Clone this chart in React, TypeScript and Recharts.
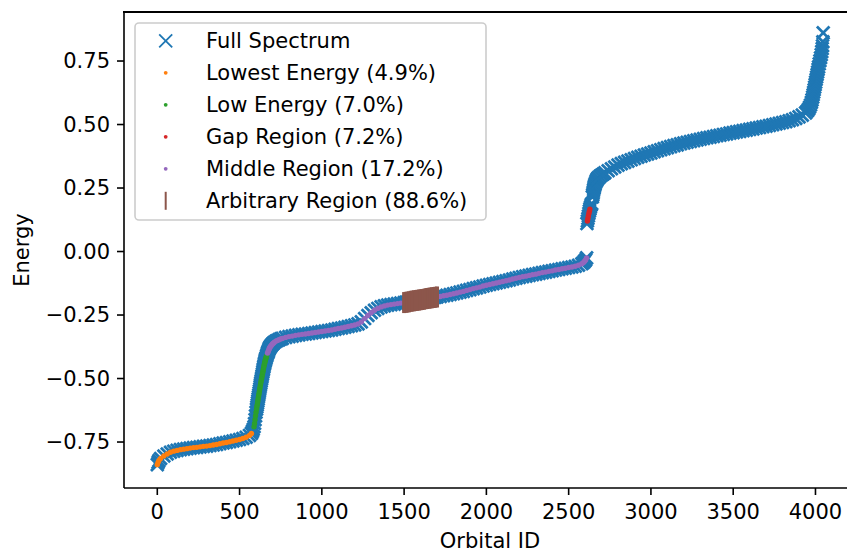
import React from 'react';
import { ScatterChart, Scatter, XAxis, YAxis, Legend, Label } from 'recharts';

// ---- data: [orbital ID, energy] ----
const fullSpectrum: [number, number][] = [
  [0, -0.839], [5, -0.830], [10, -0.823], [20, -0.815], [40, -0.805], [60, -0.797], [80, -0.790], [100, -0.786],
  [120, -0.783], [140, -0.780], [160, -0.778], [180, -0.776], [200, -0.774], [220, -0.772], [240, -0.771], [260, -0.769],
  [280, -0.767], [300, -0.766], [320, -0.764], [340, -0.762], [360, -0.760], [380, -0.757], [400, -0.754], [420, -0.752],
  [440, -0.749], [460, -0.746], [480, -0.743], [500, -0.740], [520, -0.736], [540, -0.731], [560, -0.724], [572, -0.716],
  [578, -0.708], [583, -0.700], [588, -0.690], [591, -0.677], [594, -0.662], [597, -0.647], [600, -0.633], [603, -0.621],
  [605, -0.612], [607, -0.604], [609, -0.596], [611, -0.588], [613, -0.580], [615, -0.572], [617, -0.564], [619, -0.556],
  [621, -0.548], [623, -0.540], [625, -0.532], [627, -0.524], [629, -0.517], [631, -0.510], [633, -0.503], [635, -0.496],
  [637, -0.489], [639, -0.482], [641, -0.475], [643, -0.468], [645, -0.462], [647, -0.455], [649, -0.449], [651, -0.443],
  [653, -0.438], [655, -0.432], [657, -0.427], [659, -0.422], [661, -0.418], [664, -0.412], [667, -0.406], [670, -0.400],
  [673, -0.395], [676, -0.390], [679, -0.385], [682, -0.380], [686, -0.376], [690, -0.372], [695, -0.368], [700, -0.364],
  [705, -0.361], [710, -0.358], [720, -0.353], [730, -0.350], [740, -0.347], [750, -0.344], [760, -0.342], [780, -0.338],
  [800, -0.335], [820, -0.333], [840, -0.330], [860, -0.328], [880, -0.326], [900, -0.325], [920, -0.323], [940, -0.321],
  [960, -0.319], [980, -0.317], [1000, -0.315], [1020, -0.313], [1040, -0.311], [1060, -0.309], [1080, -0.306], [1100, -0.303],
  [1120, -0.301], [1140, -0.298], [1160, -0.295], [1180, -0.292], [1200, -0.289], [1220, -0.285], [1240, -0.277], [1260, -0.264],
  [1280, -0.252], [1300, -0.241], [1320, -0.231], [1340, -0.224], [1360, -0.218], [1380, -0.214], [1400, -0.211], [1420, -0.209],
  [1440, -0.207], [1460, -0.205], [1480, -0.203], [1500, -0.201], [1510, -0.200], [1520, -0.199], [1530, -0.198], [1540, -0.196],
  [1550, -0.195], [1560, -0.194], [1570, -0.193], [1580, -0.192], [1590, -0.191], [1600, -0.190], [1610, -0.189], [1620, -0.188],
  [1630, -0.186], [1640, -0.185], [1650, -0.184], [1660, -0.183], [1670, -0.182], [1680, -0.181], [1690, -0.180], [1700, -0.179],
  [1720, -0.177], [1740, -0.174], [1760, -0.172], [1780, -0.169], [1800, -0.166], [1820, -0.163], [1840, -0.160], [1860, -0.157],
  [1880, -0.153], [1900, -0.150], [1920, -0.146], [1940, -0.143], [1960, -0.140], [1980, -0.136], [2000, -0.133], [2020, -0.130],
  [2040, -0.127], [2060, -0.124], [2080, -0.121], [2100, -0.118], [2120, -0.115], [2140, -0.112], [2160, -0.108], [2180, -0.105],
  [2200, -0.102], [2220, -0.099], [2240, -0.097], [2260, -0.094], [2280, -0.091], [2300, -0.089], [2320, -0.086], [2340, -0.083],
  [2360, -0.081], [2380, -0.078], [2400, -0.076], [2420, -0.073], [2440, -0.071], [2460, -0.068], [2480, -0.066], [2500, -0.063],
  [2520, -0.061], [2540, -0.058], [2560, -0.054], [2580, -0.048], [2590, -0.043], [2597, -0.038], [2603, -0.033], [2609, -0.025],
  [2611, 0.110], [2614, 0.120], [2617, 0.130], [2620, 0.140], [2623, 0.150], [2626, 0.159], [2629, 0.167], [2632, 0.174],
  [2636, 0.182], [2640, 0.188], [2644, 0.215], [2646, 0.222], [2648, 0.229], [2650, 0.236], [2652, 0.243], [2654, 0.249],
  [2656, 0.255], [2658, 0.260], [2660, 0.265], [2664, 0.272], [2668, 0.278], [2672, 0.283], [2676, 0.287], [2680, 0.290],
  [2690, 0.296], [2700, 0.301], [2710, 0.305], [2720, 0.310], [2740, 0.318], [2760, 0.326], [2780, 0.333], [2800, 0.340],
  [2820, 0.346], [2840, 0.351], [2860, 0.356], [2880, 0.361], [2900, 0.366], [2920, 0.371], [2940, 0.375], [2960, 0.380],
  [2980, 0.384], [3000, 0.388], [3020, 0.393], [3040, 0.397], [3060, 0.401], [3080, 0.405], [3100, 0.409], [3120, 0.413],
  [3140, 0.417], [3160, 0.420], [3180, 0.424], [3200, 0.427], [3220, 0.430], [3240, 0.433], [3260, 0.436], [3280, 0.439],
  [3300, 0.442], [3320, 0.445], [3340, 0.448], [3360, 0.450], [3380, 0.453], [3400, 0.456], [3420, 0.458], [3440, 0.461],
  [3460, 0.463], [3480, 0.466], [3500, 0.468], [3520, 0.471], [3540, 0.473], [3560, 0.476], [3580, 0.478], [3600, 0.481],
  [3620, 0.483], [3640, 0.486], [3660, 0.488], [3680, 0.491], [3700, 0.493], [3720, 0.496], [3740, 0.499], [3760, 0.502],
  [3780, 0.505], [3800, 0.508], [3820, 0.511], [3840, 0.515], [3860, 0.519], [3880, 0.524], [3900, 0.530], [3920, 0.537],
  [3940, 0.546], [3950, 0.553], [3958, 0.560], [3964, 0.568], [3970, 0.577], [3975, 0.587], [3979, 0.597], [3983, 0.608],
  [3986, 0.617], [3989, 0.627], [3992, 0.637], [3995, 0.647], [3998, 0.657], [4001, 0.667], [4004, 0.677], [4007, 0.687],
  [4010, 0.697], [4013, 0.707], [4016, 0.717], [4019, 0.727], [4023, 0.739], [4027, 0.751], [4031, 0.763], [4035, 0.775],
  [4038, 0.787], [4041, 0.799], [4043, 0.810], [4045, 0.826], [4047, 0.861],
];

const regionLabels = [
  'Lowest Energy (4.9%)',
  'Low Energy (7.0%)',
  'Gap Region (7.2%)',
  'Middle Region (17.2%)',
  'Arbitrary Region (88.6%)',
];
const regionStartIds = [0, 585, 2613, 668, 1494];
const regionEndIds = [572, 665, 2631, 2609, 1707];
const fullLabel = 'Full Spectrum';

const xTicks = [0, 500, 1000, 1500, 2000, 2500, 3000, 3500, 4000];
const xTickLabels = ['0', '500', '1000', '1500', '2000', '2500', '3000', '3500', '4000'];
const yTicks = [-0.75, -0.5, -0.25, 0, 0.25, 0.5, 0.75];
const yTickLabels = ['\u22120.75', '\u22120.50', '\u22120.25', '0.00', '0.25', '0.50', '0.75'];
const xDomain: [number, number] = [-202.35, 4249.35];
const yDomain: [number, number] = [-0.931, 0.943];

// ---- styles ----
const BLUE = '#1f77b4';
const regionColors = ['#ff7f0e', '#2ca02c', '#d62728', '#9467bd', '#8c564b'];
const FONT = 'DejaVu Sans, sans-serif';
const FS = 21;

const fullData = fullSpectrum.map(([id, e]) => ({ x: id, y: e }));
const regionData = regionLabels.map((_, k) =>
  fullData.filter((p) => p.x >= regionStartIds[k] && p.x <= regionEndIds[k])
);

const XMark = (props: any) => {
  const { cx, cy } = props;
  if (cx == null || cy == null) return <g />;
  const s = 6.3;
  return (
    <path
      d={`M${cx - s},${cy - s}L${cx + s},${cy + s}M${cx - s},${cy + s}L${cx + s},${cy - s}`}
      stroke={BLUE}
      strokeWidth={2.8}
      fill="none"
    />
  );
};

const makeDot = (color: string) => (props: any) => {
  const { cx, cy } = props;
  if (cx == null || cy == null) return <g />;
  return <circle cx={cx} cy={cy} r={2.7} fill={color} />;
};

const VBar = (props: any) => {
  const { cx, cy } = props;
  if (cx == null || cy == null) return <g />;
  return <line x1={cx} x2={cx} y1={cy - 10.5} y2={cy + 10.5} stroke={regionColors[4]} strokeWidth={4} />;
};

const LegendBox = () => {
  const rowBase = (i: number) => 26.3 + 32 * i;
  const mx = 31.7;
  return (
    <svg width={354} height={200} style={{ display: 'block' }}>
      <rect x={1} y={1} width={351} height={197} rx={4} ry={4} fill="#ffffff" fillOpacity={0.8} stroke="#cccccc" strokeWidth={1.6} />
      <path
        d={`M${mx - 6.5},${rowBase(0) - 14}L${mx + 6.5},${rowBase(0) - 1}M${mx - 6.5},${rowBase(0) - 1}L${mx + 6.5},${rowBase(0) - 14}`}
        stroke={BLUE}
        strokeWidth={1.8}
        fill="none"
      />
      <text x={72} y={rowBase(0)} fontSize={FS} fontFamily={FONT} fill="#000">{fullLabel}</text>
      {regionLabels.map((lab, k) => {
        const b = rowBase(k + 1);
        const cy = b - 7.5;
        return (
          <g key={lab}>
            {k === 4 ? (
              <line x1={mx} x2={mx} y1={cy - 9} y2={cy + 9} stroke={regionColors[4]} strokeWidth={2} />
            ) : (
              <circle cx={mx} cy={cy} r={1.9} fill={regionColors[k]} />
            )}
            <text x={72} y={b} fontSize={FS} fontFamily={FONT} fill="#000">{lab}</text>
          </g>
        );
      })}
    </svg>
  );
};

export default function App() {
  const shapes = [makeDot(regionColors[0]), makeDot(regionColors[1]), makeDot(regionColors[2]), makeDot(regionColors[3]), VBar];
  const drawOrder = [0, 1, 2, 3, 4];
  return (
    <div style={{ position: 'absolute', left: 0, top: 0, width: 847, height: 552, overflow: 'hidden', background: '#fff' }}>
      <ScatterChart width={870} height={552} margin={{ top: 12, right: 13.5, bottom: 0, left: 0 }}>
        <XAxis
          type="number"
          dataKey="x"
          domain={xDomain}
          allowDataOverflow
          ticks={xTicks}
          tickFormatter={(v: number) => xTickLabels[xTicks.indexOf(v)] ?? String(v)}
          height={64}
          tickSize={7}
          tickMargin={9}
          axisLine={{ stroke: '#000', strokeWidth: 1.6 }}
          tickLine={{ stroke: '#000', strokeWidth: 1.6 }}
          tick={{ fill: '#000', fontSize: FS, fontFamily: FONT }}
        >
          <Label
            content={() => (
              <text x={490} y={548} textAnchor="middle" fontSize={FS} fontFamily={FONT} fill="#000">
                Orbital ID
              </text>
            )}
          />
        </XAxis>
        <YAxis
          type="number"
          dataKey="y"
          domain={yDomain}
          allowDataOverflow
          ticks={yTicks}
          tickFormatter={(v: number) => yTickLabels[yTicks.indexOf(v)] ?? String(v)}
          width={124}
          tickSize={7}
          tickMargin={7}
          axisLine={{ stroke: '#000', strokeWidth: 1.6 }}
          tickLine={{ stroke: '#000', strokeWidth: 1.6 }}
          tick={{ fill: '#000', fontSize: FS, fontFamily: FONT }}
        >
          <Label
            content={() => (
              <text x={29} y={250} transform="rotate(-90 29 250)" textAnchor="middle" fontSize={FS} fontFamily={FONT} fill="#000">
                Energy
              </text>
            )}
          />
        </YAxis>
        <Scatter name={fullLabel} data={fullData} shape={XMark} isAnimationActive={false} />
        {drawOrder.map((k) => (
          <Scatter
            key={regionLabels[k]}
            name={regionLabels[k]}
            data={regionData[k]}
            shape={shapes[k]}
            fill={regionColors[k]}
            isAnimationActive={false}
          />
        ))}
        <Legend
          layout="vertical"
          align="center"
          verticalAlign="middle"
          content={() => <LegendBox />}
          wrapperStyle={{ position: 'absolute', left: 134, top: 22, width: 354, height: 200, right: 'auto', bottom: 'auto' }}
        />
      </ScatterChart>
      {/* top spine of the axes frame (right spine lies beyond the picture edge) */}
      <div style={{ position: 'absolute', left: 123.2, top: 11.2, width: 740, height: 1.6, background: '#000' }} />
    </div>
  );
}
